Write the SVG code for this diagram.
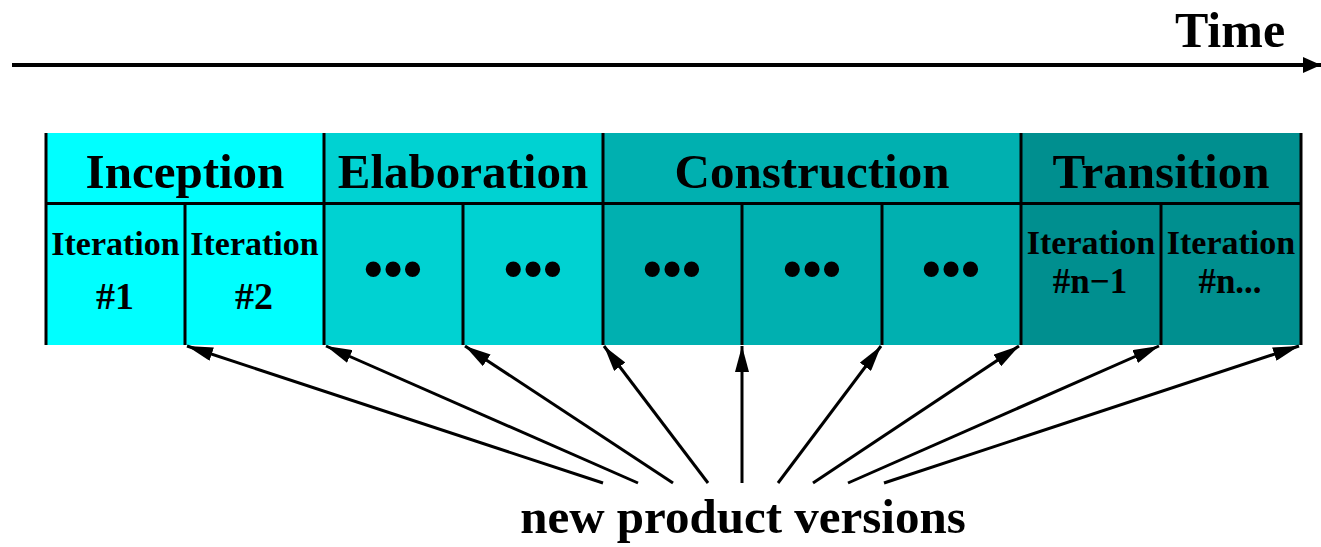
<svg xmlns="http://www.w3.org/2000/svg" width="1321" height="547" viewBox="0 0 1321 547">
<defs>
<marker id="ah" viewBox="0 0 26 14" refX="26" refY="7" markerWidth="26" markerHeight="14" markerUnits="userSpaceOnUse" orient="auto">
<path d="M0,0 L26,7 L0,14 Z" fill="#000"/>
</marker>
<marker id="ah2" viewBox="0 0 18 16" refX="18" refY="8" markerWidth="18" markerHeight="16" markerUnits="userSpaceOnUse" orient="auto">
<path d="M0,0 L18,8 L0,16 Z" fill="#000"/>
</marker>
</defs>
<style>
text{font-family:"Liberation Serif","Times New Roman",serif;font-weight:bold;fill:#000;text-anchor:middle}
.ph{font-size:49px}
.it{font-size:34px}
.num{font-size:38px}
.num2{font-size:35px}
.dots{font-size:56px}
.ln{stroke:#000;stroke-width:3;fill:none}
.conn{stroke:#000;stroke-width:3;fill:none;marker-end:url(#ah)}
</style>
<rect width="1321" height="547" fill="#fff"/>
<g id="time-axis">
<line x1="12" y1="65" x2="1321" y2="65" stroke="#000" stroke-width="4" marker-end="url(#ah2)"/>
<text x="1230" y="47" style="font-size:50px">Time</text>
</g>
<g id="inception">
<rect x="46" y="133" width="278" height="212" fill="#00FFFF"/>
<text class="ph" x="185" y="188">Inception</text>
</g>
<g id="elaboration">
<rect x="324" y="133" width="279" height="212" fill="#00D2D2"/>
<text class="ph" x="463" y="188">Elaboration</text>
</g>
<g id="construction">
<rect x="603" y="133" width="418" height="212" fill="#00B0B0"/>
<text class="ph" x="812" y="188">Construction</text>
</g>
<g id="transition">
<rect x="1021" y="133" width="280" height="212" fill="#008F8F"/>
<text class="ph" x="1161" y="188">Transition</text>
</g>
<g id="iter1"><text class="it" x="115.5" y="255">Iteration</text><text class="num" x="115" y="309">#1</text></g>
<g id="iter2"><text class="it" x="254.5" y="255">Iteration</text><text class="num" x="254" y="309">#2</text></g>
<g id="e1"><text class="dots" x="393" y="288">•••</text></g>
<g id="e2"><text class="dots" x="533" y="288">•••</text></g>
<g id="c1"><text class="dots" x="672" y="288">•••</text></g>
<g id="c2"><text class="dots" x="812" y="288">•••</text></g>
<g id="c3"><text class="dots" x="951" y="288">•••</text></g>
<g id="itern1"><text class="it" x="1091" y="254">Iteration</text><text class="num2" x="1090" y="293">#n−1</text></g>
<g id="itern"><text class="it" x="1231" y="254">Iteration</text><text class="num2" x="1230" y="293">#n...</text></g>
<g id="grid">
<line class="ln" x1="46" y1="203.5" x2="1301" y2="203.5"/>
<line class="ln" x1="46" y1="133" x2="46" y2="345"/>
<line class="ln" x1="324" y1="133" x2="324" y2="345"/>
<line class="ln" x1="603" y1="133" x2="603" y2="345"/>
<line class="ln" x1="1021" y1="133" x2="1021" y2="345"/>
<line class="ln" x1="1301" y1="133" x2="1301" y2="345"/>
<line class="ln" x1="185" y1="203" x2="185" y2="345"/>
<line class="ln" x1="463" y1="203" x2="463" y2="345"/>
<line class="ln" x1="742" y1="203" x2="742" y2="345"/>
<line class="ln" x1="882" y1="203" x2="882" y2="345"/>
<line class="ln" x1="1161" y1="203" x2="1161" y2="345"/>
</g>
<g id="connectors">
<line class="conn" x1="603" y1="483" x2="187" y2="346"/>
<line class="conn" x1="638" y1="483" x2="326" y2="346"/>
<line class="conn" x1="673" y1="483" x2="465" y2="346"/>
<line class="conn" x1="708" y1="483" x2="604" y2="346"/>
<line class="conn" x1="742" y1="483" x2="742" y2="346"/>
<line class="conn" x1="778" y1="483" x2="881" y2="346"/>
<line class="conn" x1="813" y1="483" x2="1019" y2="346"/>
<line class="conn" x1="848" y1="483" x2="1159" y2="346"/>
<line class="conn" x1="884" y1="483" x2="1299" y2="346"/>
</g>
<g id="label">
<text x="743" y="533" style="font-size:49px">new product versions</text>
</g>
</svg>
